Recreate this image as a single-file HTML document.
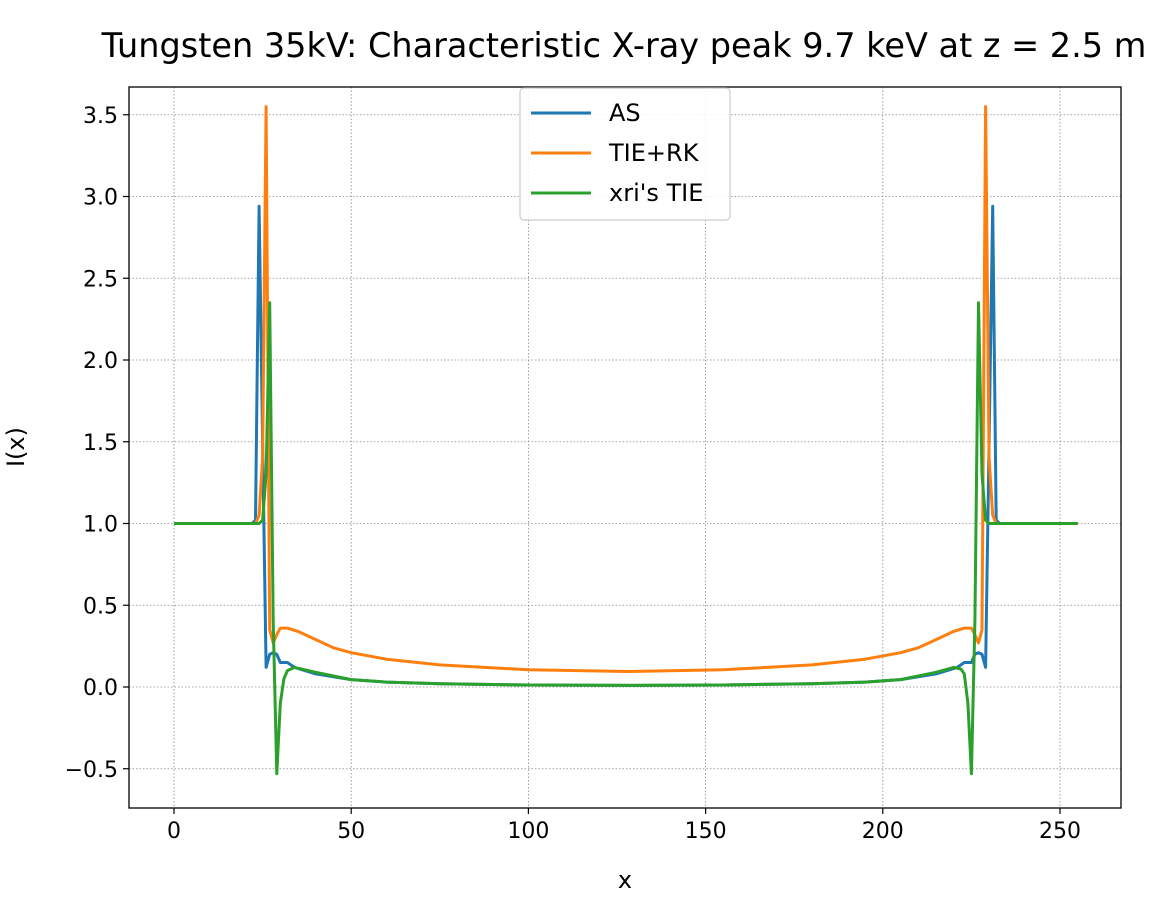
<!DOCTYPE html>
<html><head><meta charset="utf-8"><style>
body{margin:0;background:#fff;font-family:"Liberation Sans","DejaVu Sans",sans-serif}
svg text{font-family:"DejaVu Sans","Liberation Sans",sans-serif}
</style></head><body>
<svg id="chart" width="1157" height="907" xmlns="http://www.w3.org/2000/svg"></svg>
<script>
const asX=[0,22,23,24,25,26,27,28,29,30,32,34,40,50,60,75,100,128,155,180,195,205,215,221,223,225,226,227,228,229,230,231,232,233,255];
const asY=[1,1,1.02,2.94,1.5,0.12,0.2,0.21,0.2,0.15,0.15,0.12,0.08,0.045,0.03,0.02,0.012,0.01,0.012,0.02,0.03,0.045,0.08,0.12,0.15,0.15,0.2,0.21,0.2,0.12,1.5,2.94,1.02,1,1];
const rkX=[0,23,24,25,26,27,28,29,30,32,35,40,45,50,60,75,100,128,155,180,195,205,210,215,220,223,225,226,227,228,229,230,231,232,255];
const rkY=[1,1,1.05,1.4,3.55,0.35,0.27,0.32,0.36,0.36,0.34,0.29,0.24,0.21,0.17,0.135,0.105,0.095,0.105,0.135,0.17,0.21,0.24,0.29,0.34,0.36,0.36,0.32,0.27,0.35,3.55,1.4,1.05,1,1];
const xrX=[0,24,25,26,27,28,29,30,31,32,34,40,50,60,75,100,128,155,180,195,205,215,220,222,223,224,225,226,227,228,229,230,255];
const xrY=[1,1,1.02,1.3,2.35,0.4,-0.53,-0.1,0.05,0.1,0.12,0.09,0.045,0.03,0.02,0.012,0.01,0.012,0.02,0.03,0.045,0.09,0.12,0.11,0.08,-0.1,-0.53,0.4,2.35,1.3,1.02,1,1];
const xTicks=[0,50,100,150,200,250];
const yTicks=[-0.5,0,0.5,1,1.5,2,2.5,3,3.5];
const L=129,R=1121,T=87,B=808;
const sx=v=>174+v*(1060-174)/250;
const sy=v=>687-v*163.5;
const svg=document.getElementById('chart');
const NS='http://www.w3.org/2000/svg';
function mk(tag,attrs,parent){const e=document.createElementNS(NS,tag);for(const k in attrs)e.setAttribute(k,attrs[k]);(parent||svg).appendChild(e);return e;}
let t=mk('text',{x:624,y:57,'font-size':'33.5','text-anchor':'middle',fill:'#000'});


t.textContent='Tungsten 35kV: Characteristic X-ray peak 9.7 keV at z = 2.5 m';
xTicks.forEach(v=>{
 const g=mk('line',{x1:sx(v),x2:sx(v),y1:T,y2:B,stroke:'#888','stroke-width':0.8,'stroke-dasharray':'1.5,2'});
 
 
 mk('line',{x1:sx(v),x2:sx(v),y1:B,y2:B+6,stroke:'#000','stroke-width':1.2});
 const l=mk('text',{x:sx(v),y:B+30,'font-size':'22','text-anchor':'middle'});
 
 
 l.textContent=v;
});
yTicks.forEach(v=>{
 const g=mk('line',{x1:L,x2:R,y1:sy(v),y2:sy(v),stroke:'#888','stroke-width':0.8,'stroke-dasharray':'1.5,2'});
 
 
 mk('line',{x1:L-6,x2:L,y1:sy(v),y2:sy(v),stroke:'#000','stroke-width':1.2});
 const l=mk('text',{x:L-11,y:sy(v)+8,'font-size':'22','text-anchor':'end'});
 
 
 l.textContent=(v<0?'\u2212':'')+Math.abs(v).toFixed(1);
});
let xl=mk('text',{x:625,y:888,'font-size':'24','text-anchor':'middle'});


xl.textContent='x';
let yl=mk('text',{x:24,y:447,'font-size':'24','text-anchor':'middle',transform:'rotate(-90 24 447)'});


yl.textContent='I(x)';
function line(xs,ys,color,name){
 const p=mk('path',{d:xs.map((x,i)=>(i?'L':'M')+sx(x).toFixed(1)+','+sy(ys[i]).toFixed(1)).join(''),fill:'none',stroke:color,'stroke-width':3,'stroke-linejoin':'round'});
 
 
}
line(asX,asY,'#1f77b4','series-as');
line(rkX,rkY,'#ff7f0e','series-tie-rk');
line(xrX,xrY,'#2ca02c','series-xri-tie');
let fr=mk('rect',{x:L,y:T,width:R-L,height:B-T,fill:'none',stroke:'#000','stroke-width':1.3});


const lg=mk('g',{});


mk('rect',{x:520,y:88,width:210,height:132,rx:4,fill:'#fff','fill-opacity':0.85,stroke:'#ccc','stroke-width':1.2},lg);
[['AS','#1f77b4'],['TIE+RK','#ff7f0e'],["xri's TIE",'#2ca02c']].forEach((d,i)=>{
 const y=113+i*40;
 const e=mk('g',{},lg);
 
 
 mk('line',{x1:531,x2:591,y1:y,y2:y,stroke:d[1],'stroke-width':3},e);
 const tx=mk('text',{x:609,y:y+8,'font-size':'24'},e);
 tx.textContent=d[0];
});
</script>
</body></html>
